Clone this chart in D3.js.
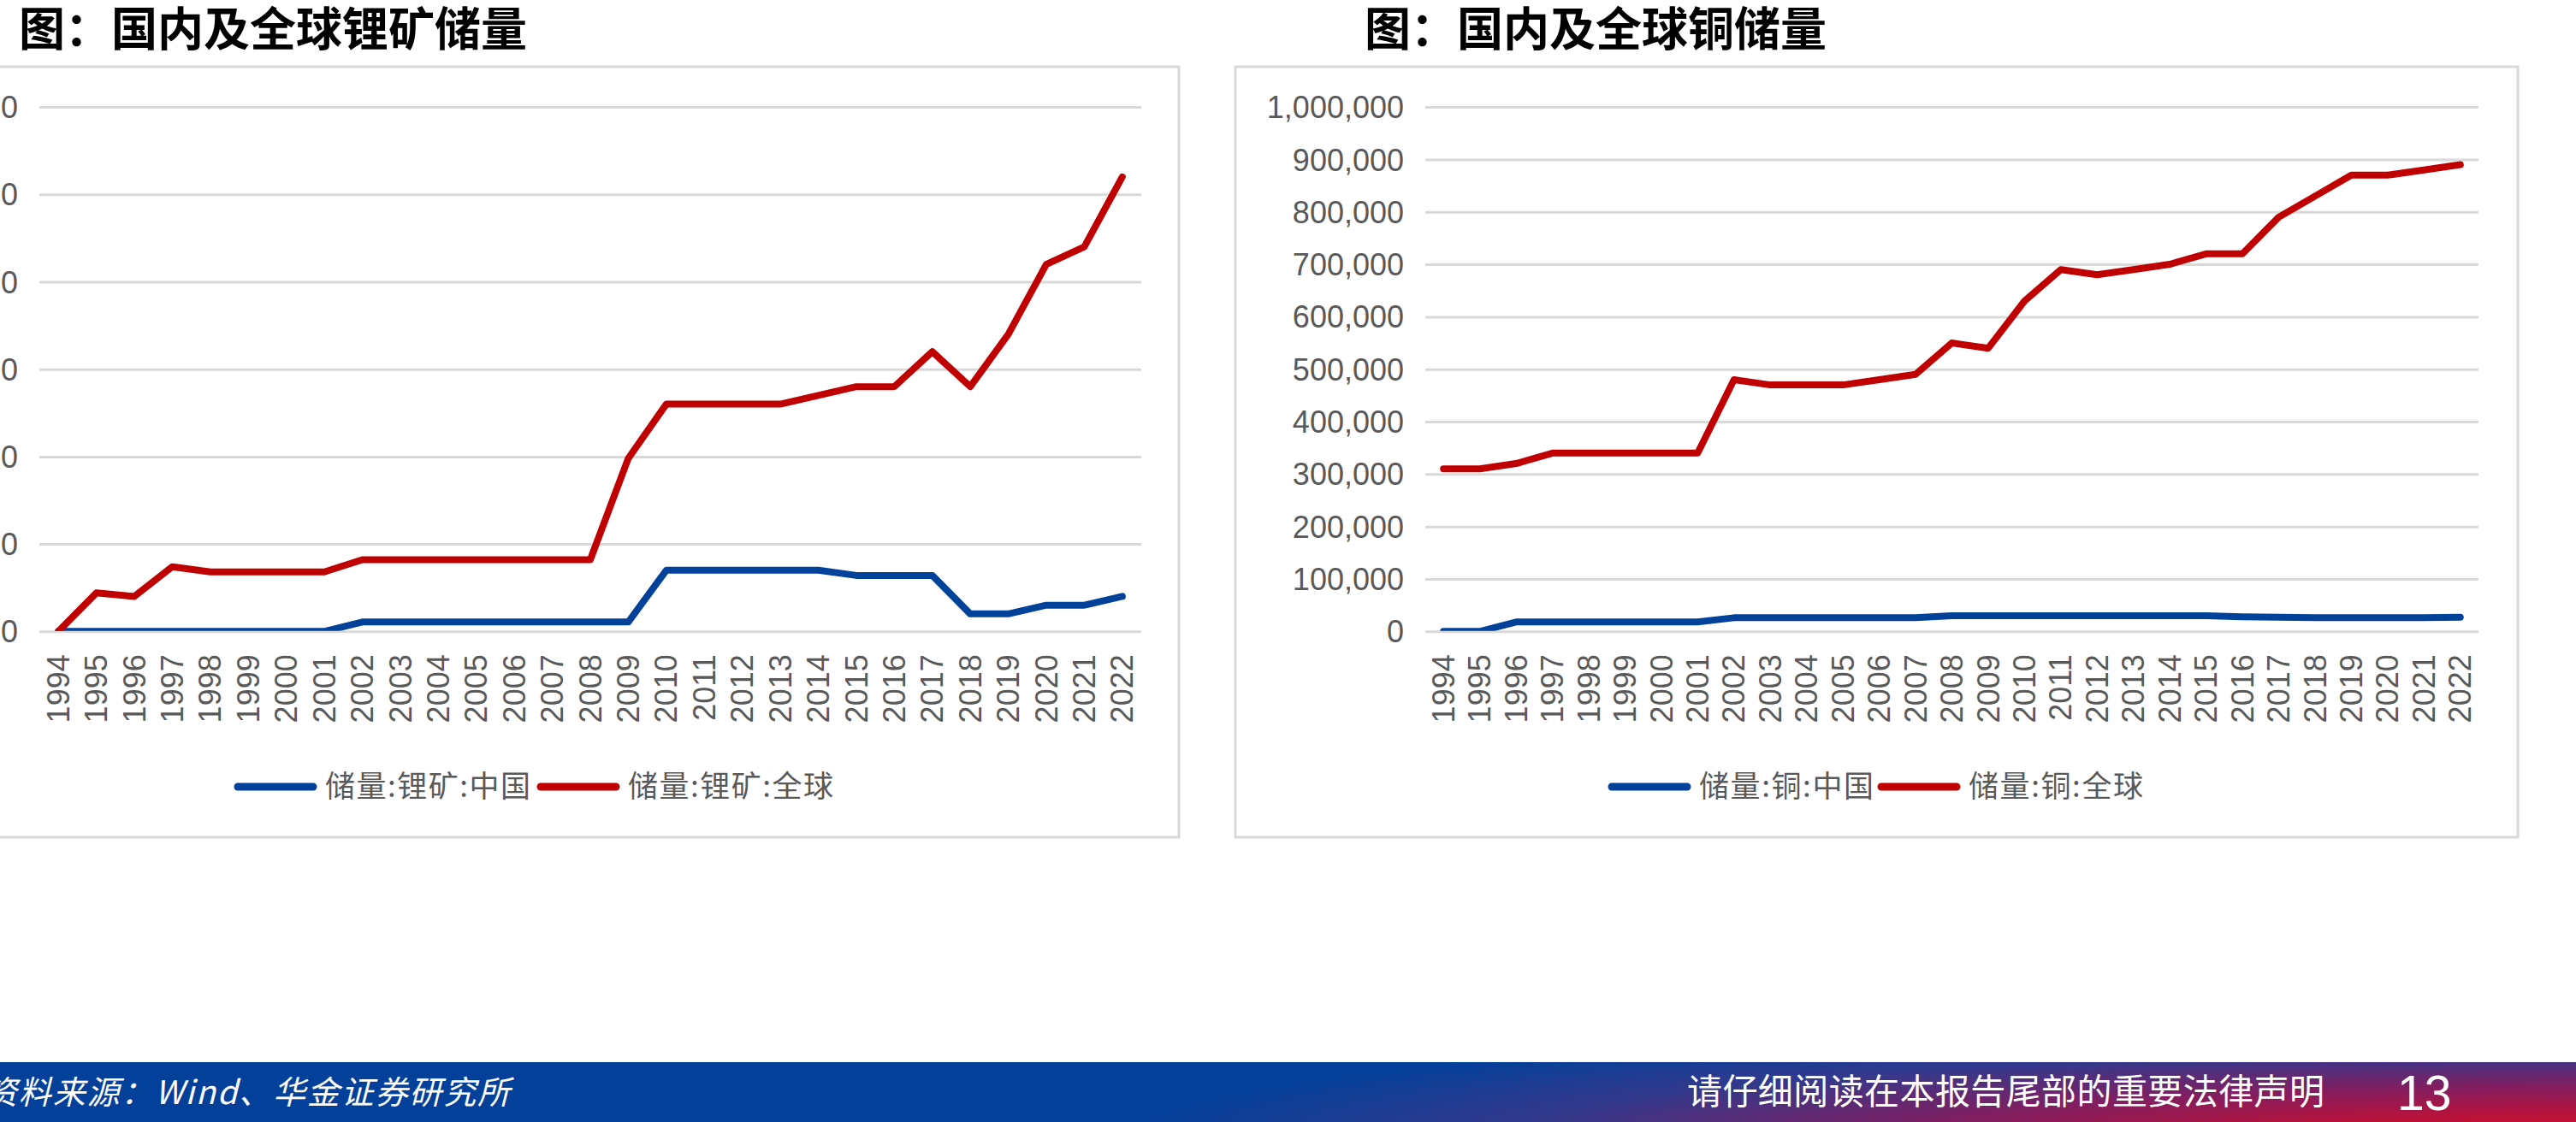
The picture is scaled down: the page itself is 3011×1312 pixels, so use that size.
<!DOCTYPE html>
<html>
<head>
<meta charset="utf-8">
<script src="https://cdn.jsdelivr.net/npm/d3@7/dist/d3.min.js"></script>
<style>
  html, body { margin: 0; padding: 0; background: #ffffff; overflow: hidden; }
  svg { display: block; }
</style>
</head>
<body>
<svg id="chart" width="3011" height="1312"></svg>
<script>
// ---------------- DATA ----------------
const years = ["1994","1995","1996","1997","1998","1999","2000","2001","2002","2003","2004","2005","2006","2007","2008","2009","2010","2011","2012","2013","2014","2015","2016","2017","2018","2019","2020","2021","2022"];

// 储量:锂矿 (千吨)
const lithiumChina = [0,0,0,0,0,0,0,0,540,540,540,540,540,540,540,540,3500,3500,3500,3500,3500,3200,3200,3200,1000,1000,1500,1500,2000];
const lithiumWorld = [0,2200,2000,3700,3400,3400,3400,3400,4100,4100,4100,4100,4100,4100,4100,9900,13000,13000,13000,13000,13500,14000,14000,16000,14000,17000,21000,22000,26000];

// 储量:铜 (千吨)
const copperChina = [0,0,18000,18000,18000,18000,18000,18000,26000,26000,26000,26000,26000,26000,30000,30000,30000,30000,30000,30000,30000,30000,28000,27000,26000,26000,26000,26000,27000];
const copperWorld = [310000,310000,320000,340000,340000,340000,340000,340000,480000,470000,470000,470000,480000,490000,550000,540000,630000,690000,680000,690000,700000,720000,720000,790000,830000,870000,870000,880000,890000];

const lithiumTicks = [0,5000,10000,15000,20000,25000,30000];
const copperTicks = [0,100000,200000,300000,400000,500000,600000,700000,800000,900000,1000000];

const titles = ["图：国内及全球锂矿储量", "图：国内及全球铜储量"];
const lithiumLegend = ["储量:锂矿:中国", "储量:锂矿:全球"];
const copperLegend = ["储量:铜:中国", "储量:铜:全球"];
const footerLeft = "资料来源：Wind、华金证券研究所";
const footerRight = "请仔细阅读在本报告尾部的重要法律声明";
const pageNumber = "13";

// ---------------- STYLE ----------------
const BLUE = "#00419A";
const RED = "#C00000";
const GRID = "#D9D9D9";
const TEXT = "#595959";
const AXIS_FONT = "'Liberation Sans', Arial, sans-serif";
const CJK_FONT = "'Noto Sans CJK SC', 'Noto Sans', sans-serif";

const svg = d3.select("#chart");
const defs = svg.append("defs");

// footer gradient
const grad = defs.append("radialGradient")
  .attr("id", "footGrad")
  .attr("gradientUnits", "userSpaceOnUse")
  .attr("cx", 3000).attr("cy", 1330).attr("r", 1700)
  .attr("gradientTransform", "translate(3000,1330) scale(1,0.08) translate(-3000,-1330)");
grad.append("stop").attr("offset", "0%").attr("stop-color", "#D0102A");
grad.append("stop").attr("offset", "20%").attr("stop-color", "#B8123A");
grad.append("stop").attr("offset", "45%").attr("stop-color", "#7E1F62");
grad.append("stop").attr("offset", "72%").attr("stop-color", "#33398C");
grad.append("stop").attr("offset", "100%").attr("stop-color", "#02409A");

function drawChart(cfg) {
  const g = svg.append("g");

  // chart frame
  g.append("rect")
    .attr("x", cfg.box[0]).attr("y", cfg.box[1])
    .attr("width", cfg.box[2] - cfg.box[0]).attr("height", cfg.box[3] - cfg.box[1])
    .attr("fill", "#fff").attr("stroke", GRID).attr("stroke-width", 3);

  // title
  svg.append("text")
    .attr("x", cfg.titleX).attr("y", 54)
    .attr("font-family", CJK_FONT).attr("font-weight", 700)
    .attr("font-size", 54).attr("fill", "#000")
    .text(cfg.title);

  const x = d3.scaleBand().domain(years).range([cfg.plot[0], cfg.plot[2]]).padding(0);
  const y = d3.scaleLinear().domain([0, cfg.ticks[cfg.ticks.length - 1]]).range([cfg.plot[3], cfg.plot[1]]);

  // y axis with gridlines
  const yAxis = d3.axisLeft(y).tickValues(cfg.ticks).tickFormat(d3.format(","))
    .tickSize(-(cfg.plot[2] - cfg.plot[0])).tickPadding(cfg.yPad);
  const ya = g.append("g").attr("transform", `translate(${cfg.plot[0]},0)`).call(yAxis);
  ya.select(".domain").remove();
  ya.selectAll("line").attr("stroke", GRID).attr("stroke-width", 3);
  ya.selectAll("text").attr("fill", TEXT).attr("font-family", AXIS_FONT).attr("font-size", 36).attr("dy", "0.35em");

  // x axis labels
  const xAxis = d3.axisBottom(x).tickSize(0).tickPadding(0);
  const xa = g.append("g").attr("transform", `translate(0,${cfg.plot[3]})`).call(xAxis);
  xa.select(".domain").remove();
  xa.selectAll("text")
    .attr("fill", TEXT).attr("font-family", AXIS_FONT).attr("font-size", 36)
    .attr("transform", "rotate(-90)")
    .attr("text-anchor", "end")
    .attr("x", -27).attr("y", 0).attr("dy", "0.35em");

  // clip to plot area
  const clipId = "clip" + cfg.id;
  defs.append("clipPath").attr("id", clipId).append("rect")
    .attr("x", cfg.plot[0]).attr("y", cfg.plot[1] - 20)
    .attr("width", cfg.plot[2] - cfg.plot[0]).attr("height", cfg.plot[3] - cfg.plot[1] + 19.5);

  const line = d3.line()
    .x((d, i) => x(years[i]) + x.bandwidth() / 2)
    .y(d => y(d));

  const lines = g.append("g").attr("clip-path", `url(#${clipId})`);
  cfg.series.forEach(s => {
    lines.append("path")
      .datum(s.values)
      .attr("d", line)
      .attr("fill", "none")
      .attr("stroke", s.color)
      .attr("stroke-width", 8)
      .attr("stroke-linejoin", "round")
      .attr("stroke-linecap", "round");
  });

  // legend
  const lg = g.append("g");
  cfg.legend.forEach((item, i) => {
    lg.append("line")
      .attr("x1", item.x).attr("x2", item.x + 88)
      .attr("y1", 920).attr("y2", 920)
      .attr("stroke", cfg.series[i].color).attr("stroke-width", 9)
      .attr("stroke-linecap", "round");
    lg.append("text")
      .attr("x", item.x + 102).attr("y", 932)
      .attr("font-family", CJK_FONT).attr("font-size", 35).attr("fill", TEXT)
      .attr("textLength", item.w).attr("lengthAdjust", "spacing")
      .text(item.label);
  });
}

drawChart({
  id: "L",
  box: [-20, 78, 1378, 979],
  plot: [46, 125.1, 1334, 738.3],
  yPad: 25,
  titleX: 22,
  title: titles[0],
  ticks: lithiumTicks,
  series: [{ values: lithiumChina, color: BLUE }, { values: lithiumWorld, color: RED }],
  legend: [
    { x: 278, label: lithiumLegend[0], w: 240 },
    { x: 632, label: lithiumLegend[1], w: 240 }
  ]
});

drawChart({
  id: "R",
  box: [1444, 78, 2943, 979],
  plot: [1666, 125.1, 2897, 738.3],
  yPad: 25,
  titleX: 1595,
  title: titles[1],
  ticks: copperTicks,
  series: [{ values: copperChina, color: BLUE }, { values: copperWorld, color: RED }],
  legend: [
    { x: 1884, label: copperLegend[0], w: 204 },
    { x: 2199, label: copperLegend[1], w: 204 }
  ]
});

// footer
svg.append("rect").attr("x", 0).attr("y", 1242).attr("width", 3011).attr("height", 70)
  .attr("fill", "#02409A");
svg.append("rect").attr("x", 0).attr("y", 1242).attr("width", 3011).attr("height", 70)
  .attr("fill", "url(#footGrad)");

svg.append("text")
  .attr("x", -18).attr("y", 1291)
  .attr("font-family", CJK_FONT).attr("font-style", "italic")
  .attr("font-size", 38).attr("fill", "#fff")
  .attr("textLength", 614).attr("lengthAdjust", "spacing")
  .text(footerLeft);

svg.append("text")
  .attr("x", 1972).attr("y", 1291)
  .attr("font-family", CJK_FONT)
  .attr("font-size", 41).attr("fill", "#fff")
  .attr("textLength", 745).attr("lengthAdjust", "spacing")
  .text(footerRight);

svg.append("text")
  .attr("x", 2802).attr("y", 1298)
  .attr("font-family", AXIS_FONT)
  .attr("font-size", 57).attr("fill", "#fff")
  .text(pageNumber);
</script>
</body>
</html>
